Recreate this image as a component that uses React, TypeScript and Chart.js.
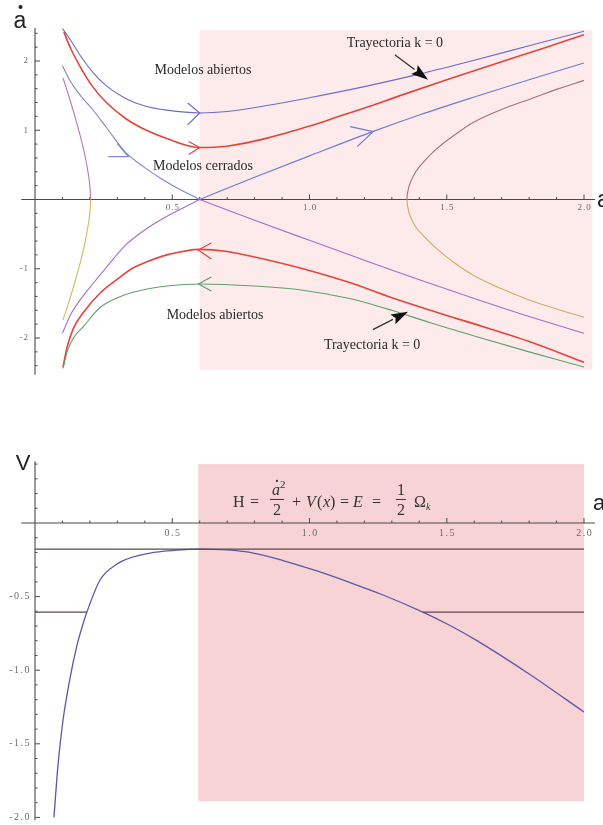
import React, { useEffect, useRef } from "react";
import { Chart, registerables } from "chart.js";

Chart.register(...registerables);

/* ---------- Phase portrait: expansion rate ȧ against scale factor a ---------- */

// open model, expanding branch
const openUpperA = [0.10, 0.13, 0.17, 0.21, 0.26, 0.33, 0.40, 0.48, 0.60, 0.70, 0.85, 1.00, 1.20, 1.40, 1.60, 1.80, 2.00];
const openUpperDot = [2.47, 2.30, 2.05, 1.84, 1.64, 1.46, 1.35, 1.29, 1.25, 1.27, 1.36, 1.47, 1.63, 1.81, 2.01, 2.22, 2.43];

// open model, contracting branch
const openLowerA = [0.102, 0.117, 0.14, 0.175, 0.237, 0.30, 0.357, 0.48, 0.60, 0.80, 0.976, 1.146, 1.30, 1.44, 1.60, 1.80, 2.00];
const openLowerDot = [-2.44, -2.20, -2.00, -1.84, -1.56, -1.42, -1.34, -1.25, -1.22, -1.25, -1.31, -1.43, -1.60, -1.78, -1.97, -2.20, -2.42];

// k = 0 trajectory, expanding branch
const flatUpperA = [0.105, 0.13, 0.17, 0.21, 0.26, 0.33, 0.40, 0.48, 0.60, 0.70, 0.85, 1.00, 1.10, 1.20, 1.33, 1.50, 1.70, 1.85, 2.00];
const flatUpperDot = [2.42, 2.18, 1.88, 1.63, 1.40, 1.17, 1.01, 0.88, 0.75, 0.77, 0.89, 1.06, 1.19, 1.32, 1.50, 1.73, 1.99, 2.18, 2.38];

// k = 0 trajectory, contracting branch
const flatLowerA = [0.102, 0.117, 0.14, 0.175, 0.237, 0.30, 0.357, 0.42, 0.48, 0.60, 0.70, 0.80, 0.976, 1.146, 1.30, 1.44, 1.57, 1.80, 2.00];
const flatLowerDot = [-2.42, -2.13, -1.86, -1.64, -1.35, -1.15, -0.99, -0.88, -0.80, -0.72, -0.75, -0.83, -1.00, -1.20, -1.42, -1.60, -1.76, -2.05, -2.35];

// separatrix through the static point (a = 0.6, ȧ = 0)
const sepLeftA = [0.10, 0.13, 0.17, 0.21, 0.26, 0.33, 0.40, 0.46, 0.53, 0.60];
const sepUpperLeftDot = [1.93, 1.70, 1.48, 1.30, 1.04, 0.68, 0.46, 0.30, 0.14, 0];
const sepLowerLeftDot = [-1.93, -1.66, -1.42, -1.22, -0.98, -0.66, -0.44, -0.29, -0.14, 0];
const sepRightA = [0.60, 0.80, 1.00, 1.23, 1.40, 1.60, 1.80, 2.00];
const sepUpperRightDot = [0, 0.32, 0.63, 0.98, 1.22, 1.48, 1.73, 1.97];
const sepLowerRightDot = [0, -0.30, -0.59, -0.92, -1.16, -1.43, -1.69, -1.93];

// closed model, small-a branch: expansion, turnaround at ȧ = 0, recollapse
const closedLeftA = [0.102, 0.122, 0.1417, 0.161, 0.1774, 0.1887, 0.1964, 0.2007, 0.2024, 0.2007, 0.1964, 0.1887, 0.1774, 0.161, 0.1417, 0.122, 0.102];
const closedLeftDot = [1.755, 1.509, 1.249, 0.975, 0.715, 0.498, 0.31, 0.152, 0, -0.15, -0.30, -0.49, -0.71, -0.97, -1.24, -1.50, -1.74];

// closed model, large-a branch: contraction, bounce at ȧ = 0, re-expansion
const closedRightA = [2.0, 1.9, 1.81, 1.7, 1.6, 1.535, 1.46, 1.4, 1.377, 1.3616, 1.355, 1.3616, 1.377, 1.395, 1.455, 1.53, 1.6, 1.7, 1.8, 1.9, 2.0];
const closedRightDot = [1.72, 1.59, 1.46, 1.30, 1.12, 0.95, 0.72, 0.47, 0.33, 0.18, 0, -0.18, -0.33, -0.44, -0.68, -0.92, -1.10, -1.29, -1.45, -1.58, -1.70];

/* ---------- Effective potential V(a) ---------- */

const potentialA = [0.069, 0.084, 0.102, 0.128, 0.153, 0.175, 0.189, 0.237, 0.299, 0.357, 0.419, 0.503, 0.60, 0.70, 0.783, 0.903, 1.027, 1.148, 1.268, 1.413, 1.512, 1.61, 1.803, 2.0];
const potentialV = [-2.0, -1.64, -1.34, -1.05, -0.83, -0.686, -0.605, -0.387, -0.279, -0.231, -0.204, -0.187, -0.177, -0.183, -0.2, -0.255, -0.326, -0.405, -0.489, -0.605, -0.696, -0.799, -1.029, -1.284];

// energy levels E and the turning points where they meet V(a)
const energyLevels = [-0.177, -0.605];
const turningLeft = 0.189;
const turningRight = 1.413;
const rangeEnd = 2.0;

/* ---------- Axis ticks ---------- */

const xTickLabels = ["0.5", "1.0", "1.5", "2.0"];
const phaseYTickLabels = ["-2", "-1", "1", "2"];
const potentialYTickLabels = ["-2.0", "-1.5", "-1.0", "-0.5"];

/* ---------- Styling ---------- */

const SERIF = "'Liberation Serif', 'Times New Roman', serif";
const SANS = "'Liberation Sans', Arial, sans-serif";
const AXIS_COLOR = "#4a4a4a";
const TICK_COLOR = "#6a6a6a";
const TEXT_COLOR = "#2a2a2a";

const C = {
  open: "#6c6cc6",
  openLow: "#5f9f6a",
  flat: "#e5443c",
  sepUL: "#7a86d6",
  sepUR: "#6e7ad0",
  sepLower: "#a36fc6",
  closedLU: "#b47ab6",
  closedLL: "#c8bd5e",
  closedRU: "#a6707e",
  closedRL: "#d6a86a",
  potential: "#5d58a6",
  energy: "#5a4848",
  bandTop: "#fdebec",
  bandBottom: "#f7d3d6",
};

// shared horizontal mapping of a onto pixels
const A_ORIGIN_PX = 35;
const PX_PER_A = 274.5;
const A_MIN = -0.05;
const A_MAX = 2.04;

const W = 603;
const PHASE_H = 400;
const POT_H = 425;

const PHASE_Y = { origin: 199.5, perUnit: 69.25, min: -2.53, max: 2.48 };
const POT_Y = { origin: 123, perUnit: 147.2, min: -2.02, max: 0.42 };

const toPoints = (xs: number[], ys: number[]) => xs.map((x, i) => ({ x, y: ys[i] }));

function curve(data: any[], color: string, width = 1.1) {
  return {
    data,
    borderColor: color,
    borderWidth: width,
    showLine: true,
    pointRadius: 0,
    pointHoverRadius: 0,
    cubicInterpolationMode: "monotone",
    fill: false,
    clip: false,
  };
}

// a turning trajectory drawn as one smooth path, coloured by the sign of ȧ
function loopCurve(data: any[], upper: string, lower: string) {
  return {
    data,
    borderColor: upper,
    borderWidth: 1.1,
    showLine: true,
    pointRadius: 0,
    pointHoverRadius: 0,
    tension: 0.4,
    fill: false,
    clip: false,
    segment: {
      borderColor: (ctx: any) => (ctx.p0.parsed.y < 0 || ctx.p1.parsed.y < 0 ? lower : upper),
    },
  };
}

function padding(h: number, y: { origin: number; perUnit: number; min: number; max: number }) {
  return {
    left: A_ORIGIN_PX + A_MIN * PX_PER_A,
    right: W - (A_ORIGIN_PX + A_MAX * PX_PER_A),
    top: y.origin - y.max * y.perUnit,
    bottom: h - (y.origin - y.min * y.perUnit),
  };
}

const isMultiple = (v: number, step: number) => Math.abs(v / step - Math.round(v / step)) < 1e-6;

function drawAxes(chart: any, opt: any) {
  const { ctx } = chart;
  const sx = chart.scales.x;
  const sy = chart.scales.y;
  const ox = sx.getPixelForValue(0);
  const oy = sy.getPixelForValue(0);
  ctx.save();
  ctx.strokeStyle = AXIS_COLOR;
  ctx.lineWidth = 1.1;
  ctx.beginPath();
  ctx.moveTo(sx.left, oy);
  ctx.lineTo(sx.right, oy);
  ctx.moveTo(ox, sy.top);
  ctx.lineTo(ox, sy.bottom);
  ctx.stroke();

  ctx.lineWidth = 1;
  ctx.beginPath();
  for (let i = 1; i * opt.xMinor <= sx.max - 0.02; i++) {
    const v = i * opt.xMinor;
    const px = sx.getPixelForValue(v);
    ctx.moveTo(px, oy);
    ctx.lineTo(px, oy - (isMultiple(v, opt.xMajor) ? 5 : 2.5));
  }
  const lo = Math.ceil(sy.min / opt.yMinor - 1e-9);
  const hi = Math.floor(sy.max / opt.yMinor + 1e-9);
  for (let i = lo; i <= hi; i++) {
    if (i === 0) continue;
    const v = i * opt.yMinor;
    const py = sy.getPixelForValue(v);
    ctx.moveTo(ox, py);
    ctx.lineTo(ox + (isMultiple(v, opt.yMajor) ? 5 : 2.5), py);
  }
  ctx.stroke();

  ctx.fillStyle = TICK_COLOR;
  ctx.font = `${opt.fontSize}px ${SERIF}`;
  (ctx as any).letterSpacing = `${opt.spacing}px`;
  ctx.textAlign = "center";
  ctx.textBaseline = "middle";
  for (const t of opt.xLabels) {
    ctx.fillText(t, sx.getPixelForValue(parseFloat(t)) + opt.spacing / 2, oy + opt.xLabelGap);
  }
  ctx.textAlign = "right";
  for (const t of opt.yLabels) {
    ctx.fillText(t, ox - opt.yLabelGap, sy.getPixelForValue(parseFloat(t)));
  }
  (ctx as any).letterSpacing = "0px";
  ctx.restore();
}

function fillBand(chart: any, a0: number, a1: number, v0: number, v1: number, color: string) {
  const { ctx } = chart;
  const sx = chart.scales.x;
  const sy = chart.scales.y;
  const x0 = sx.getPixelForValue(a0);
  const x1 = sx.getPixelForValue(a1);
  const y0 = sy.getPixelForValue(v1);
  const y1 = sy.getPixelForValue(v0);
  ctx.save();
  ctx.fillStyle = color;
  ctx.fillRect(x0, y0, x1 - x0, y1 - y0);
  ctx.restore();
}

/* ---------- Annotations on the phase portrait ---------- */

// open chevrons showing the direction of motion along each trajectory
const flowMarks = [
  { a: 0.6, v: 1.25, arms: [[-12, -10], [-12, 12]], color: C.open },
  { a: 0.6, v: 0.75, arms: [[-11, -6], [-11, 7]], color: C.flat },
  { a: 0.34, v: 0.62, arms: [[-11, -13], [-20, 0]], color: C.sepUL },
  { a: 1.232, v: 0.98, arms: [[-23, -5], [-16, 15]], color: C.sepUR },
  { a: 0.595, v: -0.73, arms: [[13, -7], [13, 9]], color: C.flat },
  { a: 0.595, v: -1.22, arms: [[13, -7], [13, 7]], color: C.openLow },
];

const phaseNotes = [
  { text: "Modelos abiertos", a: 0.612, v: 1.87 },
  { text: "Modelos cerrados", a: 0.612, v: 0.48 },
  { text: "Modelos abiertos", a: 0.656, v: -1.67 },
  { text: "Trayectoria k = 0", a: 1.311, v: 2.26 },
  { text: "Trayectoria k = 0", a: 1.228, v: -2.1 },
];

const pointerArrows = [
  { from: [1.311, 2.09], to: [1.432, 1.73] },
  { from: [1.231, -1.88], to: [1.359, -1.62] },
];

function drawPhaseOverlay(chart: any) {
  const { ctx } = chart;
  const sx = chart.scales.x;
  const sy = chart.scales.y;
  ctx.save();

  ctx.lineWidth = 1.2;
  for (const m of flowMarks) {
    const tx = sx.getPixelForValue(m.a);
    const ty = sy.getPixelForValue(m.v);
    ctx.strokeStyle = m.color;
    ctx.beginPath();
    ctx.moveTo(tx + m.arms[0][0], ty + m.arms[0][1]);
    ctx.lineTo(tx, ty);
    ctx.lineTo(tx + m.arms[1][0], ty + m.arms[1][1]);
    ctx.stroke();
  }

  for (const p of pointerArrows) {
    const x0 = sx.getPixelForValue(p.from[0]);
    const y0 = sy.getPixelForValue(p.from[1]);
    const x1 = sx.getPixelForValue(p.to[0]);
    const y1 = sy.getPixelForValue(p.to[1]);
    const len = Math.hypot(x1 - x0, y1 - y0);
    const ux = (x1 - x0) / len;
    const uy = (y1 - y0) / len;
    const head = 17;
    const half = 5.5;
    const bx = x1 - ux * head;
    const by = y1 - uy * head;
    ctx.strokeStyle = "#333";
    ctx.lineWidth = 1.3;
    ctx.beginPath();
    ctx.moveTo(x0, y0);
    ctx.lineTo(bx, by);
    ctx.stroke();
    ctx.fillStyle = "#111";
    ctx.beginPath();
    ctx.moveTo(x1, y1);
    ctx.lineTo(bx - uy * half, by + ux * half);
    ctx.lineTo(bx + ux * 3, by + uy * 3);
    ctx.lineTo(bx + uy * half, by - ux * half);
    ctx.closePath();
    ctx.fill();
  }

  ctx.fillStyle = TEXT_COLOR;
  ctx.font = `14px ${SERIF}`;
  ctx.textAlign = "center";
  ctx.textBaseline = "middle";
  for (const n of phaseNotes) {
    ctx.fillText(n.text, sx.getPixelForValue(n.a), sy.getPixelForValue(n.v));
  }

  // axis titles
  const ox = sx.getPixelForValue(0);
  const oy = sy.getPixelForValue(0);
  ctx.fillStyle = "#222";
  ctx.font = `23px ${SANS}`;
  ctx.textAlign = "center";
  ctx.textBaseline = "alphabetic";
  ctx.fillText("a", ox - 15, 28);
  ctx.beginPath();
  ctx.arc(ox - 14.5, 7, 2, 0, Math.PI * 2);
  ctx.fill();
  ctx.textAlign = "left";
  ctx.fillText("a", sx.right + 2, oy + 7);
  ctx.restore();
}

/* ---------- Annotations on the potential plot ---------- */

const equationAnchor = { a: 0.721, v: 0.109 };

function drawPotentialOverlay(chart: any) {
  const { ctx } = chart;
  const sx = chart.scales.x;
  const sy = chart.scales.y;
  const x = sx.getPixelForValue(equationAnchor.a);
  const b = sy.getPixelForValue(equationAnchor.v);
  const rm = `16px ${SERIF}`;
  const it = `italic 16px ${SERIF}`;
  ctx.save();
  ctx.fillStyle = "#333";
  ctx.strokeStyle = "#333";
  ctx.textBaseline = "alphabetic";
  ctx.textAlign = "left";
  ctx.font = rm;
  ctx.fillText("H", x, b);
  ctx.fillText("=", x + 17, b);

  // ȧ² / 2
  ctx.font = it;
  ctx.fillText("a", x + 39, b - 12);
  ctx.beginPath();
  ctx.arc(x + 44, b - 26, 1.1, 0, Math.PI * 2);
  ctx.fill();
  ctx.font = `11px ${SERIF}`;
  ctx.fillText("2", x + 47, b - 19);
  ctx.font = rm;
  ctx.textAlign = "center";
  ctx.fillText("2", x + 44, b + 8);
  ctx.lineWidth = 1;
  ctx.beginPath();
  ctx.moveTo(x + 37, b - 7.5);
  ctx.lineTo(x + 51, b - 7.5);
  ctx.stroke();

  ctx.textAlign = "left";
  ctx.fillText("+", x + 59, b);
  ctx.font = it;
  ctx.fillText("V", x + 73, b);
  ctx.font = rm;
  ctx.fillText("(", x + 84, b);
  ctx.font = it;
  ctx.fillText("x", x + 90, b);
  ctx.font = rm;
  ctx.fillText(")", x + 97, b);
  ctx.fillText("=", x + 107, b);
  ctx.font = it;
  ctx.fillText("E", x + 120, b);
  ctx.font = rm;
  ctx.fillText("=", x + 139, b);

  // 1 / 2
  ctx.textAlign = "center";
  ctx.fillText("1", x + 168, b - 12);
  ctx.fillText("2", x + 168, b + 8);
  ctx.beginPath();
  ctx.moveTo(x + 163, b - 7.5);
  ctx.lineTo(x + 173, b - 7.5);
  ctx.stroke();

  ctx.textAlign = "left";
  ctx.fillText("Ω", x + 181, b);
  ctx.font = `italic 10px ${SERIF}`;
  ctx.fillText("k", x + 193, b + 3);

  // axis titles
  const ox = sx.getPixelForValue(0);
  const oy = sy.getPixelForValue(0);
  ctx.fillStyle = "#222";
  ctx.font = `22px ${SANS}`;
  ctx.textAlign = "center";
  ctx.fillText("V", ox - 12, sy.top + 9);
  ctx.textAlign = "left";
  ctx.fillText("a", sx.right - 2, oy - 13);
  ctx.restore();
}

/* ---------- Chart builders ---------- */

function phaseConfig(): any {
  const datasets = [
    curve(toPoints(openUpperA, openUpperDot), C.open),
    curve(toPoints(sepLeftA, sepUpperLeftDot), C.sepUL),
    curve(toPoints(sepRightA, sepUpperRightDot), C.sepUR),
    curve(toPoints(sepLeftA, sepLowerLeftDot), C.sepLower),
    curve(toPoints(sepRightA, sepLowerRightDot), C.sepLower),
    loopCurve(toPoints(closedLeftA, closedLeftDot), C.closedLU, C.closedLL),
    loopCurve(toPoints(closedRightA, closedRightDot), C.closedRU, C.closedRL),
    curve(toPoints(openLowerA, openLowerDot), C.openLow),
    curve(toPoints(flatUpperA, flatUpperDot), C.flat, 1.6),
    curve(toPoints(flatLowerA, flatLowerDot), C.flat, 1.6),
  ];
  return {
    type: "scatter",
    data: { datasets },
    options: {
      responsive: false,
      devicePixelRatio: 1,
      animation: false,
      events: [],
      layout: { padding: padding(PHASE_H, PHASE_Y) },
      plugins: { legend: { display: false }, tooltip: { enabled: false }, title: { display: false } },
      scales: {
        x: { type: "linear", min: A_MIN, max: A_MAX, display: false },
        y: { type: "linear", min: PHASE_Y.min, max: PHASE_Y.max, display: false },
      },
    },
    plugins: [
      {
        id: "phaseDecor",
        beforeDatasetsDraw(chart: any) {
          fillBand(chart, 0.6, 2.03, -2.46, 2.45, C.bandTop);
          drawAxes(chart, {
            xMinor: 0.1,
            xMajor: 0.5,
            yMinor: 0.2,
            yMajor: 1,
            xLabels: xTickLabels,
            yLabels: phaseYTickLabels,
            fontSize: 9,
            spacing: 1,
            xLabelGap: 8,
            yLabelGap: 6,
          });
        },
        afterDatasetsDraw(chart: any) {
          drawPhaseOverlay(chart);
        },
      },
    ],
  };
}

function potentialConfig(): any {
  const [eSeparatrix, eClosed] = energyLevels;
  const datasets = [
    curve(toPoints([0, rangeEnd], [eSeparatrix, eSeparatrix]), C.energy, 1.3),
    curve(toPoints([0, turningLeft], [eClosed, eClosed]), C.energy, 1.3),
    curve(toPoints([turningRight, rangeEnd], [eClosed, eClosed]), C.energy, 1.3),
    curve(toPoints(potentialA, potentialV), C.potential, 1.3),
  ];
  return {
    type: "scatter",
    data: { datasets },
    options: {
      responsive: false,
      devicePixelRatio: 1,
      animation: false,
      events: [],
      layout: { padding: padding(POT_H, POT_Y) },
      plugins: { legend: { display: false }, tooltip: { enabled: false }, title: { display: false } },
      scales: {
        x: { type: "linear", min: A_MIN, max: A_MAX, display: false },
        y: { type: "linear", min: POT_Y.min, max: POT_Y.max, display: false },
      },
    },
    plugins: [
      {
        id: "potentialDecor",
        beforeDatasetsDraw(chart: any) {
          fillBand(chart, 0.595, 2.0, -1.89, 0.4, C.bandBottom);
          drawAxes(chart, {
            xMinor: 0.1,
            xMajor: 0.5,
            yMinor: 0.1,
            yMajor: 0.5,
            xLabels: xTickLabels,
            yLabels: potentialYTickLabels,
            fontSize: 10,
            spacing: 1.5,
            xLabelGap: 10,
            yLabelGap: 4,
          });
        },
        afterDatasetsDraw(chart: any) {
          drawPotentialOverlay(chart);
        },
      },
    ],
  };
}

export default function App() {
  const phaseRef = useRef<HTMLCanvasElement | null>(null);
  const potentialRef = useRef<HTMLCanvasElement | null>(null);

  useEffect(() => {
    const charts: Chart[] = [];
    if (phaseRef.current) charts.push(new Chart(phaseRef.current, phaseConfig()));
    if (potentialRef.current) charts.push(new Chart(potentialRef.current, potentialConfig()));
    return () => charts.forEach((c) => c.destroy());
  }, []);

  return (
    <div style={{ position: "absolute", left: 0, top: 0, width: W, height: PHASE_H + POT_H, background: "#fff" }}>
      <canvas
        ref={phaseRef}
        width={W}
        height={PHASE_H}
        style={{ position: "absolute", left: 0, top: 0, width: W, height: PHASE_H }}
      />
      <canvas
        ref={potentialRef}
        width={W}
        height={POT_H}
        style={{ position: "absolute", left: 0, top: PHASE_H, width: W, height: POT_H }}
      />
    </div>
  );
}
